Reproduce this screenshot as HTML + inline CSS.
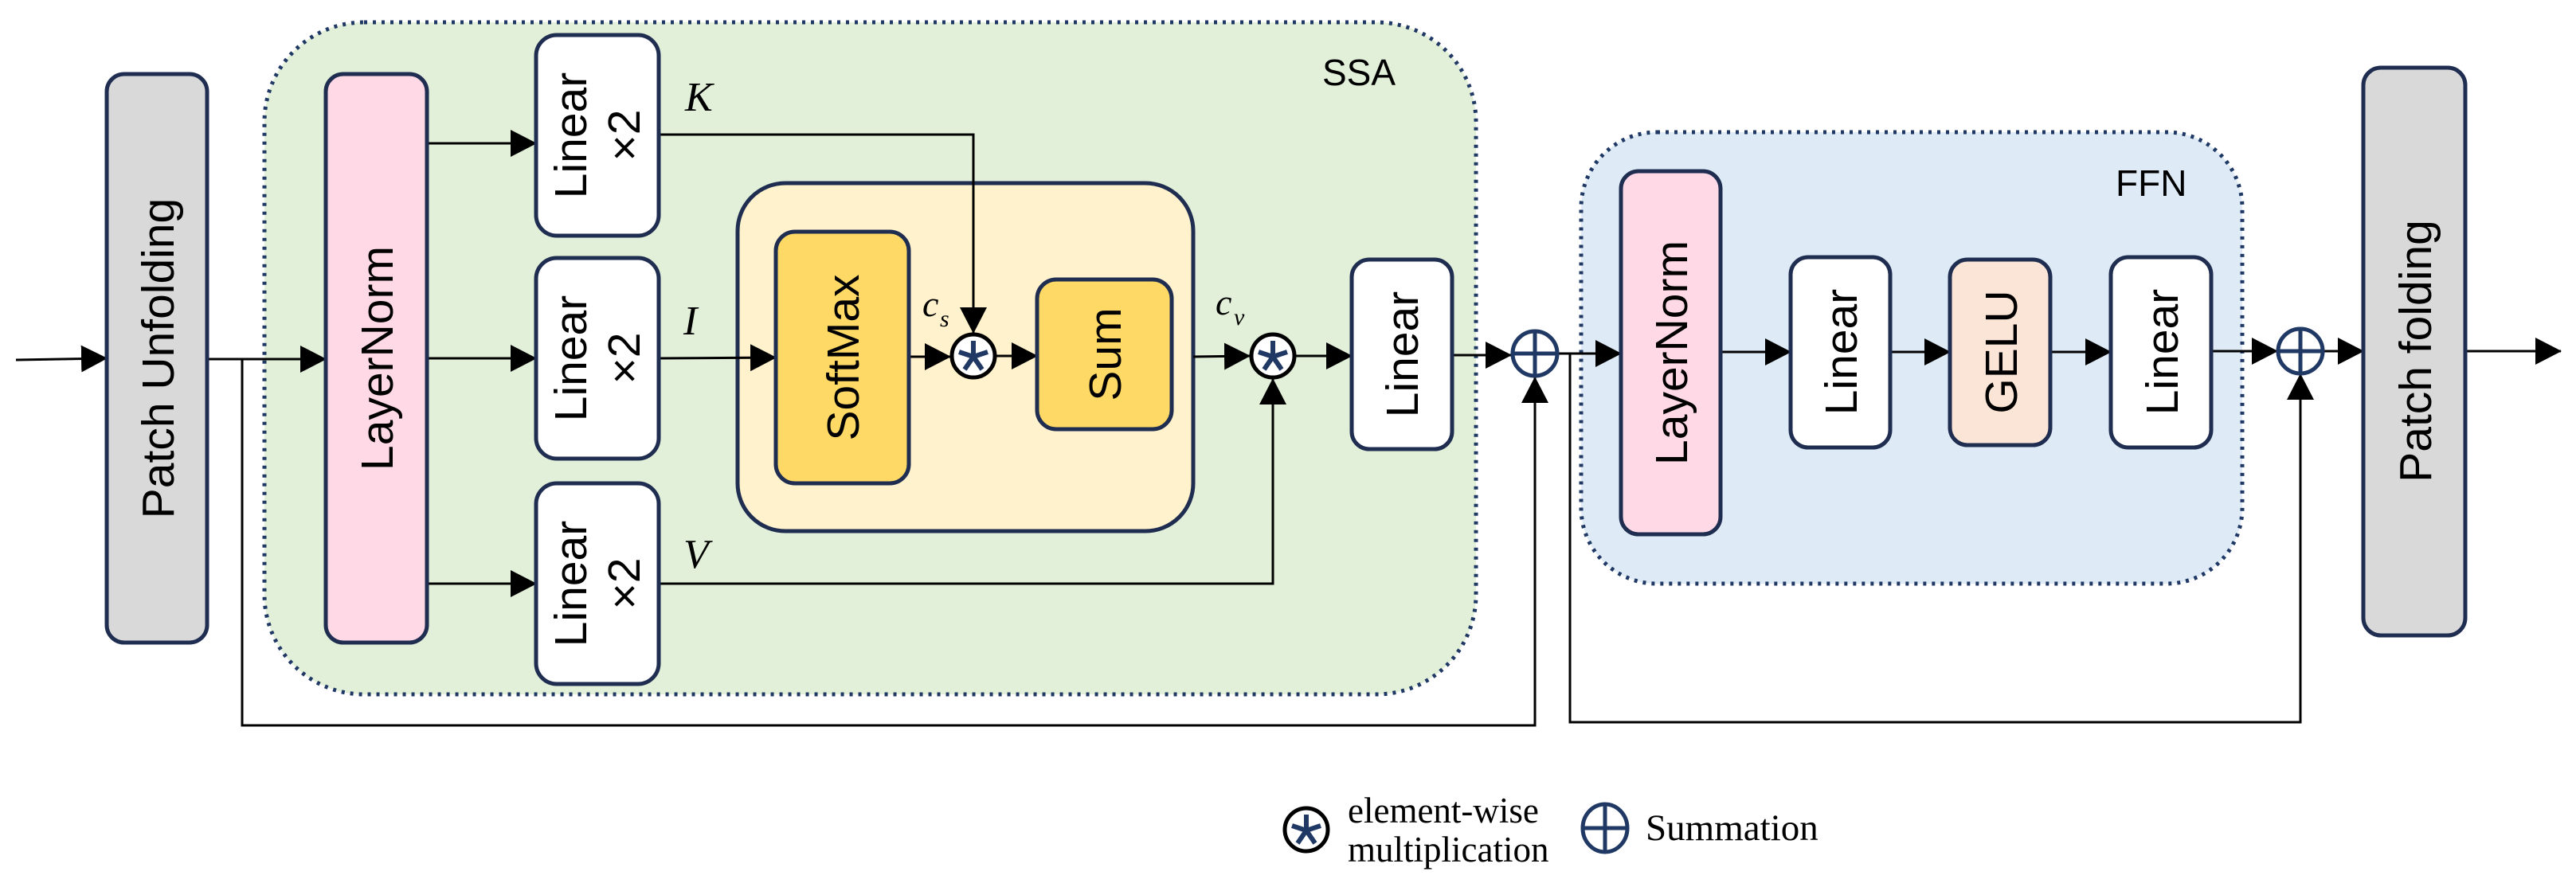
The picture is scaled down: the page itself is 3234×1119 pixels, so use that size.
<!DOCTYPE html>
<html><head><meta charset="utf-8"><style>
html,body{margin:0;padding:0;background:#fff;}
svg{display:block;}
.t{font-family:"Liberation Sans",Arial,sans-serif;font-size:57px;fill:#000;}
.s{font-family:"Liberation Serif","Times New Roman",serif;fill:#000;}
</style></head><body>
<svg width="3234" height="1119" viewBox="0 0 3234 1119" xmlns="http://www.w3.org/2000/svg">
<defs>
<marker id="a" markerUnits="userSpaceOnUse" markerWidth="34" markerHeight="34" refX="32" refY="17" orient="auto">
<path d="M0,0 L33,17 L0,34 Z" fill="#000"/>
</marker>
</defs>
<!-- containers -->
<rect x="332" y="28" width="1521" height="844" rx="125" fill="#e2efd9" stroke="#1f3864" stroke-width="5" stroke-dasharray="4 7"/>
<rect x="1985" y="166" width="830" height="567" rx="95" fill="#deebf7" stroke="#1f3864" stroke-width="5" stroke-dasharray="4 7"/>
<text x="1660" y="107" style="font-family:'Liberation Sans',sans-serif;font-size:46px">SSA</text>
<text x="2656" y="246" style="font-family:'Liberation Sans',sans-serif;font-size:46px">FFN</text>
<rect x="926" y="230" width="572" height="437" rx="60" fill="#fff2cc" stroke="#1f2d50" stroke-width="5"/>

<!-- connectors -->
<g stroke="#000" stroke-width="3" fill="none">
<line x1="20" y1="452" x2="134" y2="450" marker-end="url(#a)"/>
<line x1="260" y1="451" x2="409" y2="451" marker-end="url(#a)"/>
<polyline points="304,451 304,911 1927,911 1927,474" marker-end="url(#a)"/>
<line x1="536" y1="180" x2="673" y2="180" marker-end="url(#a)"/>
<line x1="536" y1="450" x2="673" y2="450" marker-end="url(#a)"/>
<line x1="536" y1="733" x2="673" y2="733" marker-end="url(#a)"/>
<polyline points="827,169 1222,169 1222,418" marker-end="url(#a)"/>
<line x1="827" y1="450" x2="974" y2="449" marker-end="url(#a)"/>
<line x1="1141" y1="448" x2="1193" y2="448" marker-end="url(#a)"/>
<line x1="1251" y1="447" x2="1302" y2="447" marker-end="url(#a)"/>
<line x1="1498" y1="448" x2="1569" y2="447" marker-end="url(#a)"/>
<polyline points="827,733 1598,733 1598,476" marker-end="url(#a)"/>
<line x1="1627" y1="447" x2="1697" y2="447" marker-end="url(#a)"/>
<line x1="1823" y1="446" x2="1897" y2="446" marker-end="url(#a)"/>
<line x1="1957" y1="444" x2="2035" y2="444" marker-end="url(#a)"/>
<polyline points="1971,444 1971,907 2888,907 2888,470" marker-end="url(#a)"/>
<line x1="2160" y1="442" x2="2248" y2="442" marker-end="url(#a)"/>
<line x1="2373" y1="442" x2="2448" y2="442" marker-end="url(#a)"/>
<line x1="2574" y1="442" x2="2650" y2="442" marker-end="url(#a)"/>
<line x1="2776" y1="441" x2="2859" y2="441" marker-end="url(#a)"/>
<line x1="2918" y1="441" x2="2967" y2="441" marker-end="url(#a)"/>
<line x1="3095" y1="441" x2="3215" y2="441" marker-end="url(#a)"/>
</g>

<!-- boxes -->
<g stroke="#1f2d50" stroke-width="5">
<rect x="134" y="93" width="126" height="714" rx="22" fill="#d9d9d9"/>
<rect x="409" y="93" width="127" height="714" rx="22" fill="#ffd9e6"/>
<rect x="673" y="44" width="154" height="252" rx="26" fill="#fff"/>
<rect x="673" y="324" width="154" height="252" rx="26" fill="#fff"/>
<rect x="673" y="607" width="154" height="252" rx="26" fill="#fff"/>
<rect x="974" y="291" width="167" height="316" rx="24" fill="#ffd966"/>
<rect x="1302" y="351" width="169" height="188" rx="24" fill="#ffd966"/>
<rect x="1697" y="326" width="126" height="238" rx="22" fill="#fff"/>
<rect x="2035" y="215" width="125" height="456" rx="22" fill="#ffd9e6"/>
<rect x="2248" y="323" width="125" height="239" rx="22" fill="#fff"/>
<rect x="2448" y="326" width="126" height="233" rx="22" fill="#fbe5d6"/>
<rect x="2650" y="323" width="126" height="239" rx="22" fill="#fff"/>
<rect x="2967" y="85" width="128" height="713" rx="22" fill="#d9d9d9"/>
</g>

<!-- rotated labels -->
<g class="t" text-anchor="middle">
<text transform="translate(218,450) rotate(-90)">Patch Unfolding</text>
<text transform="translate(493,450) rotate(-90)">LayerNorm</text>
<text transform="translate(736,170) rotate(-90)">Linear</text>
<text transform="translate(803,170) rotate(-90)">×2</text>
<text transform="translate(736,450) rotate(-90)">Linear</text>
<text transform="translate(803,450) rotate(-90)">×2</text>
<text transform="translate(736,733) rotate(-90)">Linear</text>
<text transform="translate(803,733) rotate(-90)">×2</text>
<text transform="translate(1078,449) rotate(-90)">SoftMax</text>
<text transform="translate(1407,445) rotate(-90)">Sum</text>
<text transform="translate(1780,445) rotate(-90)">Linear</text>
<text transform="translate(2118,443) rotate(-90)">LayerNorm</text>
<text transform="translate(2331,442) rotate(-90)">Linear</text>
<text transform="translate(2532,442) rotate(-90)">GELU</text>
<text transform="translate(2734,442) rotate(-90)">Linear</text>
<text transform="translate(3052,441) rotate(-90)">Patch folding</text>
</g>

<!-- math labels -->
<g class="s" font-style="italic">
<text x="860" y="139" font-size="52">K</text>
<text x="858" y="420" font-size="52">I</text>
<text x="858" y="713" font-size="52">V</text>
<text x="1158" y="397" font-size="46">c</text>
<text x="1180" y="410" font-size="30">s</text>
<text x="1526" y="395" font-size="46">c</text>
<text x="1549" y="408" font-size="30">v</text>
</g>

<!-- operators -->
<g id="mul1">
<circle cx="1222" cy="447" r="27" fill="#fff" stroke="#000" stroke-width="5"/>
<g stroke="#1f3864" stroke-width="6" stroke-linecap="butt">
<line x1="1222" y1="428" x2="1222" y2="448"/>
<line x1="1222" y1="448" x2="1204" y2="442"/>
<line x1="1222" y1="448" x2="1240" y2="442"/>
<line x1="1222" y1="448" x2="1211" y2="464"/>
<line x1="1222" y1="448" x2="1233" y2="464"/>
</g>
</g>
<g>
<circle cx="1598" cy="447" r="27" fill="#fff" stroke="#000" stroke-width="5"/>
<g stroke="#1f3864" stroke-width="6">
<line x1="1598" y1="428" x2="1598" y2="448"/>
<line x1="1598" y1="448" x2="1580" y2="442"/>
<line x1="1598" y1="448" x2="1616" y2="442"/>
<line x1="1598" y1="448" x2="1587" y2="464"/>
<line x1="1598" y1="448" x2="1609" y2="464"/>
</g>
</g>
<g fill="none" stroke="#1f3864" stroke-width="5">
<circle cx="1927" cy="444" r="28"/>
<line x1="1899" y1="444" x2="1955" y2="444"/>
<line x1="1927" y1="416" x2="1927" y2="472"/>
<circle cx="2888" cy="441" r="28"/>
<line x1="2860" y1="441" x2="2916" y2="441"/>
<line x1="2888" y1="413" x2="2888" y2="469"/>
</g>

<!-- legend -->
<circle cx="1640" cy="1042" r="27" fill="#fff" stroke="#000" stroke-width="5"/>
<g stroke="#1f3864" stroke-width="6">
<line x1="1640" y1="1023" x2="1640" y2="1043"/>
<line x1="1640" y1="1043" x2="1622" y2="1037"/>
<line x1="1640" y1="1043" x2="1658" y2="1037"/>
<line x1="1640" y1="1043" x2="1629" y2="1059"/>
<line x1="1640" y1="1043" x2="1651" y2="1059"/>
</g>
<g fill="none" stroke="#1f3864" stroke-width="5">
<ellipse cx="2015" cy="1040" rx="28" ry="30"/>
<line x1="1987" y1="1040" x2="2043" y2="1040"/>
<line x1="2015" y1="1010" x2="2015" y2="1070"/>
</g>
<text class="s" x="1692" y="1033" font-size="45">element-wise</text>
<text class="s" x="1692" y="1082" font-size="45">multiplication</text>
<text class="s" x="2066" y="1055" font-size="47">Summation</text>
</svg>
</body></html>
